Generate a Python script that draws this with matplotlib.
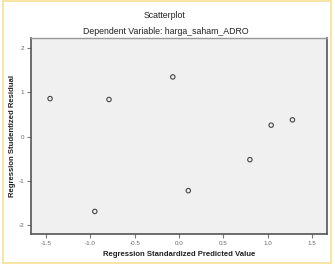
import matplotlib
matplotlib.use("Agg")
import matplotlib.pyplot as plt
from matplotlib.patches import Rectangle

title = "Scatterplot"
subtitle = "Dependent Variable: harga_saham_ADRO"
xlabel = "Regression Standardized Predicted Value"
ylabel = "Regression Studentized Residual"

pred = [-1.455, -0.79, -0.95, -0.07, 0.105, 0.80, 1.04, 1.28]
resid = [0.86, 0.84, -1.69, 1.35, -1.22, -0.52, 0.26, 0.38]

xticks = [-1.5, -1.0, -0.5, 0.0, 0.5, 1.0, 1.5]
xticklabels = ["-1.5", "-1.0", "-0.5", "0.0", "0.5", "1.0", "1.5"]
yticks = [-2, -1, 0, 1, 2]
yticklabels = ["-2", "-1", "0", "1", "2"]

plt.rcParams['font.family'] = ['Liberation Sans', 'DejaVu Sans']

W, H = 335, 267
fig = plt.figure(figsize=(W / 100, H / 100), dpi=100)
fig.patch.set_facecolor("white")

# yellow frame
fig.patches.append(Rectangle((2.5 / W, 4 / H), 328.5 / W, 262 / H, transform=fig.transFigure,
                             fill=False, edgecolor="#f6e5a3", linewidth=1.4))

ax = fig.add_axes([31 / W, 1 - 234 / H, 296 / W, 196 / H])
ax.set_facecolor("#f0f0f0")
ax.scatter(pred, resid, s=10, facecolors="none", edgecolors="#444444", linewidths=0.8, zorder=3)

ax.set_xlim(-1.67, 1.67)
ax.set_ylim(-2.2, 2.23)
ax.set_xticks(xticks)
ax.set_xticklabels(xticklabels)
ax.set_yticks(yticks)
ax.set_yticklabels(yticklabels)
ax.tick_params(axis="both", direction="out", length=3, width=0.8, color="#777777",
               labelsize=4.5, labelcolor="#666666", pad=2)

for side in ["left", "bottom", "right"]:
    ax.spines[side].set_color("#555555")
    ax.spines[side].set_linewidth(1.2)
ax.spines["top"].set_color("#999999")
ax.spines["top"].set_linewidth(1.0)

fig.text(179 / W, 1 - 254 / H, xlabel, ha="center", va="center", fontsize=5.6,
         fontweight="bold", color="#222222")
fig.text(13 / W, 1 - 136 / H, ylabel, ha="center", va="center", rotation=90, fontsize=5.6,
         fontweight="bold", color="#222222")

fig.text(165 / W, 1 - 15 / H, title, ha="center", va="center", fontsize=6.3, color="#222222")
fig.text(166 / W, 1 - 32 / H, subtitle, ha="center", va="center", fontsize=6.3, color="#222222")

fig.savefig("out.png", dpi=100)
